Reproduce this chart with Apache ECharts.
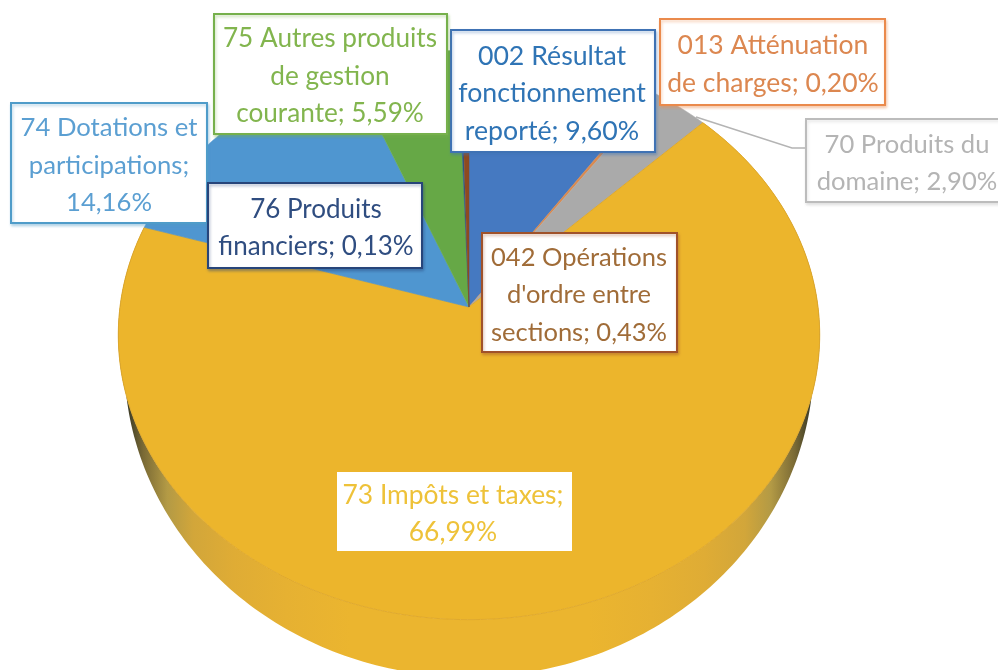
<!DOCTYPE html>
<html lang="fr">
<head>
<meta charset="utf-8">
<title>Recettes de fonctionnement</title>
<style>
  html, body { margin: 0; padding: 0; background: #fff; }
  #chart { width: 998px; height: 670px; }
</style>
<script src="https://cdn.jsdelivr.net/npm/echarts@6/dist/echarts.min.js"></script>
</head>
<body>
<div id="chart"></div>
<script>
// Budget shares, clockwise from twelve o'clock
const categories = [
  '002 Résultat\nfonctionnement\nreporté',
  '013 Atténuation\nde charges',
  '70 Produits du\ndomaine',
  '73 Impôts et taxes;\n',
  '74 Dotations et\nparticipations;\n',
  '75 Autres produits\nde gestion\ncourante',
  '76 Produits\nfinanciers',
  "042 Opérations\nd'ordre entre\nsections"
];
const shares = [9.60, 0.20, 2.90, 66.99, 14.16, 5.59, 0.13, 0.43];

const sliceColors = ['#4579c1', '#d98a50', '#aaaaaa', '#ecb52c', '#4f96d0', '#66a846', '#2b5488', '#8e4a20'];
const textColors = ['#2f74b5', '#dc8750', '#b4b4b4', '#eec239', '#5b9fd2', '#82b54e', '#2f4d80', '#a06c38'];
const borderColors = ['#3f72b4', '#ea8a4c', '#bcbcbc', null, '#4f9cc9', '#76b04c', '#27457a', '#a0522a'];

// Label boxes as [left, top, width, height], in slice order
const labelBoxes = [
  [451, 30, 204, 122],
  [660, 19, 225, 86],
  [806, 119, 210, 83],
  [337, 472, 235, 79],
  [11, 103, 196, 120],
  [214, 14, 233, 120],
  [208, 183, 214, 85],
  [482, 233, 195, 119]
];
const labelCentres = [552, 773, 907, 453, 109, 330, 316, 579];
const labelSizes = [26.7, 26.5, 25.6, 26.4, 25.7, 26.2, 26, 25.5];

// Perspective view of the top face, and of the smaller lower edge of the rim
const topFace = { x: 469, y: 307, rx: 349, ry: 282, tilt: 0.098 };
const lowerEdge = { x: 469, y: 331, rx: 343, ry: 312, tilt: 0.098 };
const frontSlice = 3;

const total = shares.reduce((a, b) => a + b, 0);

function project(face, angle) {
  const den = 1 + face.tilt * Math.cos(angle);
  return [
    face.x + face.rx * Math.sin(angle) / den,
    face.y - face.ry * Math.cos(angle) / den
  ];
}

function sliceAngles(index) {
  const before = shares.slice(0, index).reduce((a, b) => a + b, 0);
  const start = before / total * 2 * Math.PI;
  return [start, start + shares[index] / total * 2 * Math.PI];
}

function arcPoints(face, index) {
  const [a0, a1] = sliceAngles(index);
  const steps = Math.max(2, Math.ceil((a1 - a0) / (Math.PI / 180)));
  const pts = [];
  for (let i = 0; i <= steps; i++) {
    pts.push(project(face, a0 + (a1 - a0) * i / steps));
  }
  return pts;
}

// Only the large slice faces the viewer, so only it shows a rim
function renderRim(params) {
  const i = params.dataIndex;
  if (i !== frontSlice) return null;
  const points = arcPoints(topFace, i).concat(arcPoints(lowerEdge, i).reverse());
  const shade = {
    type: 'linear', x: 118, y: 0, x2: 820, y2: 0, global: true,
    colorStops: [
      { offset: 0.013, color: '#3a3a26' },
      { offset: 0.036, color: '#7a6a35' },
      { offset: 0.07, color: '#b39a45' },
      { offset: 0.107, color: '#d2a63a' },
      { offset: 0.164, color: '#dfac35' },
      { offset: 0.24, color: '#e6b132' },
      { offset: 0.33, color: '#ebb52f' },
      { offset: 0.67, color: '#ebb52f' },
      { offset: 0.76, color: '#e6b132' },
      { offset: 0.836, color: '#dfac35' },
      { offset: 0.893, color: '#d2a63a' },
      { offset: 0.93, color: '#b39a45' },
      { offset: 0.964, color: '#7a6a35' },
      { offset: 0.987, color: '#3a3a26' }
    ]
  };
  return { type: 'polygon', shape: { points }, style: { fill: shade } };
}

function renderTop(params) {
  const i = params.dataIndex;
  const points = [[topFace.x, topFace.y]].concat(arcPoints(topFace, i));
  const fill = sliceColors[i];
  return {
    type: 'polygon',
    shape: { points },
    style: { fill, stroke: i === frontSlice ? '#e0a92c' : fill, lineWidth: i === frontSlice ? 1 : 0.5 }
  };
}

function labelText(i) {
  const pct = shares[i].toFixed(2).replace('.', ',') + '%';
  const name = categories[i];
  return name.endsWith('\n') ? name + pct : name + '; ' + pct;
}

function renderLabel(params) {
  const i = params.dataIndex;
  const [x, y, w, h] = labelBoxes[i];
  const border = borderColors[i];
  return {
    type: 'group',
    children: [
      {
        type: 'rect',
        shape: { x, y, width: w, height: h },
        style: {
          fill: '#ffffff',
          stroke: border || '#ffffff',
          lineWidth: border ? 2 : 0,
          shadowColor: border ? border + '66' : 'transparent',
          shadowBlur: border ? 3 : 0,
          shadowOffsetX: 1,
          shadowOffsetY: 2
        }
      },
      {
        type: 'text',
        style: {
          text: labelText(i),
          x: labelCentres[i],
          y: y + h / 2 + 2.5,
          align: 'center',
          verticalAlign: 'middle',
          fontFamily: 'Lato',
          fontSize: labelSizes[i],
          lineHeight: 37.5,
          fill: textColors[i]
        }
      }
    ]
  };
}

// Thin leader from the grey slice out to its label
const leader = [[696, 117], [792, 148], [806, 148]];

const chart = echarts.init(document.getElementById('chart'), null, { renderer: 'canvas' });
chart.setOption({
  animation: false,
  backgroundColor: '#ffffff',
  series: [
    { type: 'custom', coordinateSystem: 'none', silent: true, z: 1, data: shares, renderItem: renderRim },
    { type: 'custom', coordinateSystem: 'none', silent: true, z: 2, data: shares, renderItem: renderTop },
    {
      type: 'custom', coordinateSystem: 'none', silent: true, z: 3, data: [0],
      renderItem: () => ({
        type: 'polyline',
        shape: { points: leader },
        style: { stroke: '#b4b4b4', lineWidth: 1.5, fill: null }
      })
    },
    { type: 'custom', coordinateSystem: 'none', silent: true, z: 4, data: shares, renderItem: renderLabel }
  ]
});
</script>
</body>
</html>
